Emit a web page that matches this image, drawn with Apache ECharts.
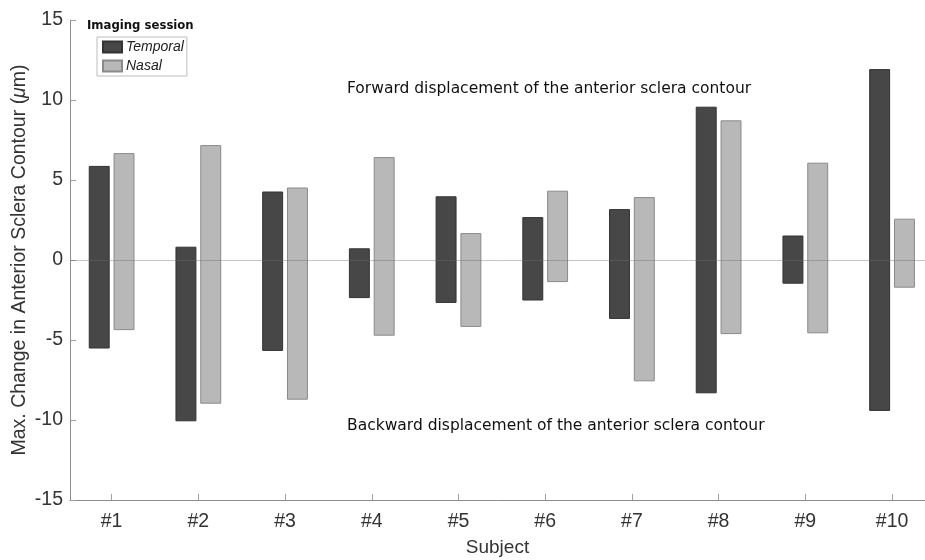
<!DOCTYPE html>
<html>
<head>
<meta charset="utf-8">
<script src="https://cdn.jsdelivr.net/npm/echarts@6/dist/echarts.min.js"></script>
<style>html,body{margin:0;padding:0;background:#fff}#c{width:925px;height:560px}</style>
</head>
<body>
<div id="c"></div>
<script>
const subjects = ['#1','#2','#3','#4','#5','#6','#7','#8','#9','#10'];
const temporalLow  = [-5.5, -10.05, -5.65, -2.35, -2.65, -2.5, -3.65, -8.3, -1.45, -9.4];
const temporalHigh = [5.85, 0.8, 4.25, 0.7, 3.95, 2.65, 3.15, 9.55, 1.5, 11.9];
const nasalLow  = [-4.35, -8.95, -8.7, -4.7, -4.15, -1.35, -7.55, -4.6, -4.55, -1.7];
const nasalHigh = [6.65, 7.15, 4.5, 6.4, 1.65, 4.3, 3.9, 8.7, 6.05, 2.55];
const yTicks = [-15, -10, -5, 0, 5, 10, 15];

const chart = echarts.init(document.getElementById('c'), null, {renderer: 'canvas'});

function mkRender(offset) {
  return function (params, api) {
    const x = api.value(0) + offset;
    const lo = api.coord([x, api.value(1)]);
    const hi = api.coord([x, api.value(2)]);
    const w = api.size([1, 0])[0] * 0.23;
    return {
      type: 'rect',
      shape: {x: lo[0] - w / 2, y: hi[1], width: w, height: lo[1] - hi[1]},
      style: api.style()
    };
  };
}
const tData = subjects.map((s, i) => [i + 1, temporalLow[i], temporalHigh[i]]);
const nData = subjects.map((s, i) => [i + 1, nasalLow[i], nasalHigh[i]]);

const font = '"Liberation Sans", Arial, sans-serif';
const vfont = '"DejaVu Sans", Verdana, sans-serif';

chart.setOption({
  animation: false,
  grid: {left: 70, right: 0, top: 20, bottom: 60, containLabel: false, outerBoundsMode: 'none'},
  xAxis: {
    type: 'value', min: 0.52, max: 10.38,
    splitLine: {show: false},
    axisLine: {show: true, onZero: false, lineStyle: {color: '#8c8c8c', width: 1}},
    axisTick: {show: true, inside: true, length: 6, customValues: subjects.map((s, i) => i + 1), lineStyle: {color: '#a0a0a0'}},
    axisLabel: {customValues: subjects.map((s, i) => i + 1), formatter: v => subjects[Math.round(v) - 1] || '',
      fontSize: 19.5, color: '#333', fontFamily: font, margin: 12},
    name: 'Subject', nameLocation: 'middle', nameGap: 38, nameMoveOverlap: false,
    nameTextStyle: {fontSize: 19, color: '#333', fontFamily: font}
  },
  yAxis: {
    type: 'value', min: -15, max: 15, interval: 5,
    splitLine: {show: false},
    axisLine: {show: true, onZero: false, lineStyle: {color: '#8c8c8c', width: 1}},
    axisTick: {show: true, inside: true, length: 6, lineStyle: {color: '#a0a0a0'}},
    axisLabel: {fontSize: 19.5, color: '#333', fontFamily: font, margin: 7,
      customValues: yTicks},
    name: '{n|Max. Change in Anterior Sclera Contour (}{i|μ}{n|m)}',
    nameLocation: 'middle', nameGap: 40, nameMoveOverlap: false,
    nameTextStyle: {color: '#333', fontFamily: font, fontSize: 19.5,
      rich: {n: {fontSize: 19.5, color: '#333', fontFamily: font},
             i: {fontSize: 19.5, color: '#333', fontFamily: font, fontStyle: 'italic'}}}
  },
  legend: {
    orient: 'vertical', left: 97, top: 37,
    data: [{name: 'Temporal', icon: 'rect'}, {name: 'Nasal', icon: 'rect'}],
    itemWidth: 19, itemHeight: 11, itemGap: 5,
    padding: [3, 3, 3, 5],
    borderWidth: 1, borderColor: '#bdbdbd',
    textStyle: {fontSize: 14, fontStyle: 'italic', color: '#222', fontFamily: font, padding: [0, 0, 0, -1]}
  },
  graphic: [
    {type: 'text', left: 87, top: 20, style: {text: 'Imaging session', font: 'bold 11.7px ' + vfont, fill: '#111'}},
    {type: 'text', left: 347, top: 81, style: {text: 'Forward displacement of the anterior sclera contour', font: '15.5px ' + vfont, fill: '#111'}},
    {type: 'text', left: 347, top: 418, style: {text: 'Backward displacement of the anterior sclera contour', font: '15.5px ' + vfont, fill: '#111'}}
  ],
  series: [
    {
      name: 'Temporal', type: 'custom', renderItem: mkRender(-0.143),
      encode: {x: 0, y: [1, 2]}, data: tData,
      itemStyle: {color: '#474747', borderColor: '#333333', borderWidth: 1}, z: 2
    },
    {
      name: 'Nasal', type: 'custom', renderItem: mkRender(0.143),
      encode: {x: 0, y: [1, 2]}, data: nData,
      itemStyle: {color: '#b8b8b8', borderColor: '#8a8a8a', borderWidth: 1}, z: 2,
      markLine: {
        silent: true, symbol: 'none', label: {show: false},
        lineStyle: {color: 'rgba(110,110,110,0.4)', width: 1, type: 'solid'},
        data: [{yAxis: 0}], z: 5
      }
    }
  ]
});
</script>
</body>
</html>
